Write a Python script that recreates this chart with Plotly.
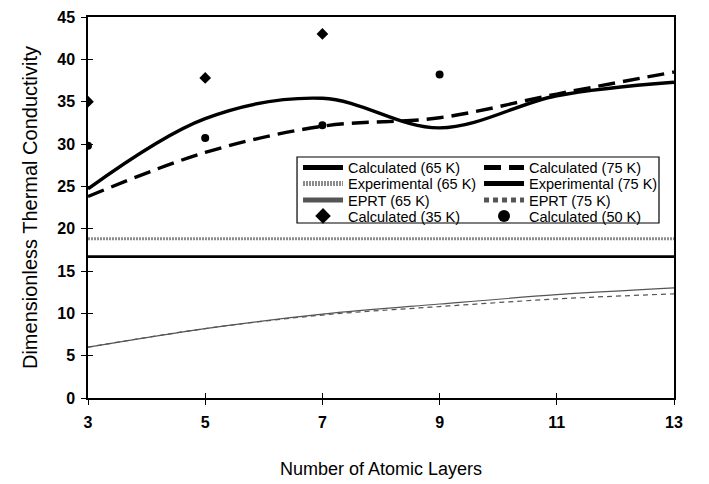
import plotly.graph_objects as go

layers = [3, 5, 7, 9, 11, 13]
calc_65 = [24.7, 33.0, 35.4, 31.9, 35.7, 37.3]
calc_75 = [23.8, 29.0, 32.1, 33.1, 35.9, 38.5]
exp_x = [3, 13]
exp_65 = [18.8, 18.8]
exp_75 = [16.7, 16.7]
eprt_65 = [6.0, 8.2, 9.9, 11.1, 12.2, 13.0]
eprt_75 = [6.0, 8.2, 9.8, 10.8, 11.7, 12.3]
calc35_x = [3, 5, 7]
calc_35 = [35.0, 37.8, 43.0]
calc50_x = [3, 5, 7, 9]
calc_50 = [29.8, 30.7, 32.2, 38.2]

x_ticks = [3, 5, 7, 9, 11, 13]
y_ticks = [0, 5, 10, 15, 20, 25, 30, 35, 40, 45]

FONT = "Liberation Sans, Arial, sans-serif"

fig = go.Figure()
# legend row 1
fig.add_trace(go.Scatter(x=layers, y=calc_65, mode="lines", name="Calculated (65 K)",
                         line=dict(color="black", width=3.4, shape="spline"),
                         legend="legend"))
fig.add_trace(go.Scatter(x=layers, y=calc_75, mode="lines", name="Calculated (75 K)",
                         line=dict(color="black", width=3.4, dash="17px,8px", shape="spline"),
                         legend="legend"))
# legend row 2
fig.add_trace(go.Scatter(x=exp_x, y=exp_65, mode="lines", name="Experimental (65 K)",
                         line=dict(color="#8c8c8c", width=3, dash="2px,1px"),
                         legend="legend2"))
fig.add_trace(go.Scatter(x=exp_x, y=exp_75, mode="lines", name="Experimental (75 K)",
                         line=dict(color="black", width=2.6),
                         legend="legend2"))
# legend row 3
fig.add_trace(go.Scatter(x=layers, y=eprt_65, mode="lines", name="EPRT (65 K)",
                         line=dict(color="#555555", width=1.2, shape="spline"),
                         legend="legend3"))
fig.add_trace(go.Scatter(x=layers, y=eprt_75, mode="lines", name="EPRT (75 K)",
                         line=dict(color="#555555", width=1.2, dash="5px,4px", shape="spline"),
                         legend="legend3"))
# legend row 4
fig.add_trace(go.Scatter(x=calc35_x, y=calc_35, mode="markers", name="Calculated (35 K)",
                         marker=dict(symbol="diamond", color="black", size=9),
                         legend="legend4"))
fig.add_trace(go.Scatter(x=calc50_x, y=calc_50, mode="markers", name="Calculated (50 K)",
                         marker=dict(symbol="circle", color="black", size=8),
                         legend="legend4"))

# invisible trace carrying the inside half of the cross ticks
fig.add_trace(go.Scatter(x=[3], y=[0], xaxis="x2", yaxis="y2", mode="markers",
                         marker=dict(opacity=0), showlegend=False, hoverinfo="skip"))

legend_font = dict(family=FONT, size=14.5, color="black")


def row_legend(y):
    return dict(x=0.3584, y=y, xanchor="left", yanchor="middle", orientation="h",
                font=legend_font, bgcolor="rgba(0,0,0,0)", itemwidth=40,
                entrywidth=126, itemsizing="constant")


tickfont = dict(family=FONT, size=16, color="black", weight="bold")

fig.update_layout(
    width=701, height=476,
    margin=dict(l=80, r=35, t=9, b=86),
    paper_bgcolor="white", plot_bgcolor="white",
    font=dict(family=FONT, color="black"),
    legend=row_legend(0.605),
    legend2=row_legend(0.563),
    legend3=row_legend(0.5197),
    legend4=row_legend(0.4777),
    xaxis=dict(range=[3, 13], tickvals=x_ticks, ticktext=[str(v) for v in x_ticks],
               showgrid=False, zeroline=False, showline=True, linecolor="black",
               linewidth=1.5, mirror=True, ticks="outside", ticklen=5, tickcolor="black",
               tickfont=tickfont, ticklabelstandoff=4, automargin=False,
               ticklabeloverflow="allow",
               title=dict(text="Number of Atomic Layers", font=dict(family=FONT, size=18),
                          standoff=32)),
    yaxis=dict(range=[0, 45], tickvals=y_ticks, ticktext=[str(v) for v in y_ticks],
               showgrid=False, zeroline=False, showline=True, linecolor="black",
               linewidth=1.5, mirror=True, ticks="outside", ticklen=5, tickcolor="black",
               tickfont=tickfont, ticklabelstandoff=3, automargin=False,
               ticklabeloverflow="allow",
               title=dict(text="Dimensionless Thermal Conductivity",
                          font=dict(family=FONT, size=20), standoff=14)),
    xaxis2=dict(range=[3, 13], overlaying="x", tickvals=x_ticks, showticklabels=False,
                ticks="inside", ticklen=5, tickcolor="black", showline=False,
                showgrid=False, zeroline=False),
    yaxis2=dict(range=[0, 45], overlaying="y", tickvals=y_ticks, showticklabels=False,
                ticks="inside", ticklen=5, tickcolor="black", showline=False,
                showgrid=False, zeroline=False),
    shapes=[dict(type="rect", xref="paper", yref="paper", x0=0.3567, x1=0.9744,
                 y0=0.4593, y1=0.6325, line=dict(color="black", width=1.2),
                 fillcolor="rgba(0,0,0,0)", layer="above")],
    showlegend=True,
)

fig.write_html("out.html")
